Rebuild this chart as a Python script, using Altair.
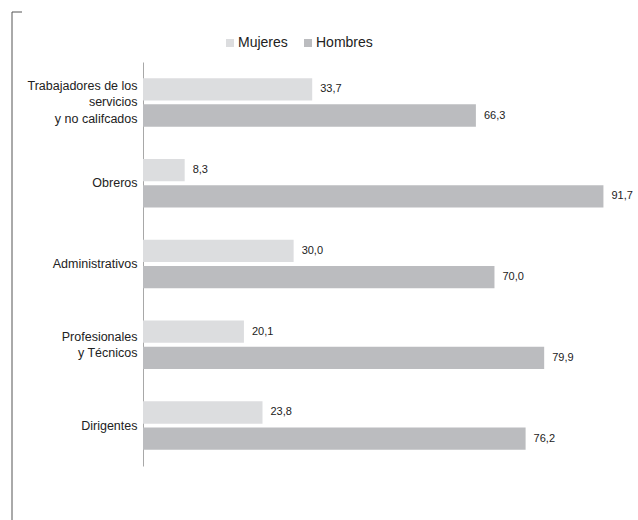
import altair as alt
import pandas as pd

categories = ["Trabajadores de los\u00a0\nservicios\ny no califcados", "Obreros", "Administrativos",
              "Profesionales\ny Técnicos", "Dirigentes"]
series = ["Mujeres", "Hombres"]
mujeres = [33.7, 8.3, 30.0, 20.1, 23.8]
hombres = [66.3, 91.7, 70.0, 79.9, 76.2]
colors = ["#dcdddf", "#bbbcbf"]

rows = []
for c, m, h in zip(categories, mujeres, hombres):
    rows.append({"cat": c, "serie": "Mujeres", "value": m})
    rows.append({"cat": c, "serie": "Hombres", "value": h})
df = pd.DataFrame(rows)

FONT = "Liberation Sans"
LH = 16.5

y_enc = alt.Y("cat:N", sort=categories, title=None,
              scale=alt.Scale(paddingInner=0.4, paddingOuter=0.2),
              axis=alt.Axis(ticks=False, domainColor="#a8a8a8", domainWidth=1,
                            labelFontSize=12.5, labelFont=FONT, labelColor="#222222",
                            labelPadding=6, labelLimit=0, labelLineHeight=LH,
                            labelExpr="split(datum.label, '\\n')",
                            labelOffset={
                                "condition": [
                                    {"test": "length(split(datum.value, '\\n')) == 3", "value": -LH},
                                    {"test": "length(split(datum.value, '\\n')) == 2", "value": -LH / 2},
                                ],
                                "value": 0,
                            }))
yoff = alt.YOffset("serie:N", sort=series, scale=alt.Scale(paddingInner=0.15, paddingOuter=0))
x_enc = alt.X("value:Q", scale=alt.Scale(domain=[0, 95]), axis=None)

base = alt.Chart(df)

bars = base.mark_bar().encode(
    y=y_enc, yOffset=yoff, x=x_enc,
    color=alt.Color("serie:N", sort=series,
                    scale=alt.Scale(domain=series, range=colors),
                    legend=alt.Legend(title=None, orient="none", direction="horizontal",
                                      legendX=80, legendY=-26, symbolType="square",
                                      symbolSize=64, symbolStrokeWidth=0,
                                      labelFontSize=14, labelFont=FONT, labelColor="#222222",
                                      labelOffset=1, columnPadding=13, padding=0)),
)

labels = base.mark_text(align="left", baseline="middle", dx=8, fontSize=11,
                        font=FONT, color="#222222").transform_calculate(
    lbl="replace(format(datum.value, '.1f'), '.', ',')"
).encode(y=y_enc, yOffset=yoff, x=x_enc, text="lbl:N")

frame_data = alt.Data(values=[{"k": 1}])
frame_v = alt.Chart(frame_data).mark_rule(color="#555555", strokeWidth=1).encode(
    x=alt.value(-131), y=alt.value(-50), y2=alt.value(470))
frame_h = alt.Chart(frame_data).mark_rule(color="#555555", strokeWidth=1).encode(
    x=alt.value(-131), x2=alt.value(-121), y=alt.value(-50))

chart = alt.layer(bars, labels, frame_v, frame_h).properties(
    width=477, height=404,
    autosize=alt.AutoSizeParams(type="none"),
    padding={"left": 143, "top": 62, "right": 18, "bottom": 54},
).configure_view(stroke=None)

chart.save("out.html", embed_options={"renderer": "svg", "actions": False})
